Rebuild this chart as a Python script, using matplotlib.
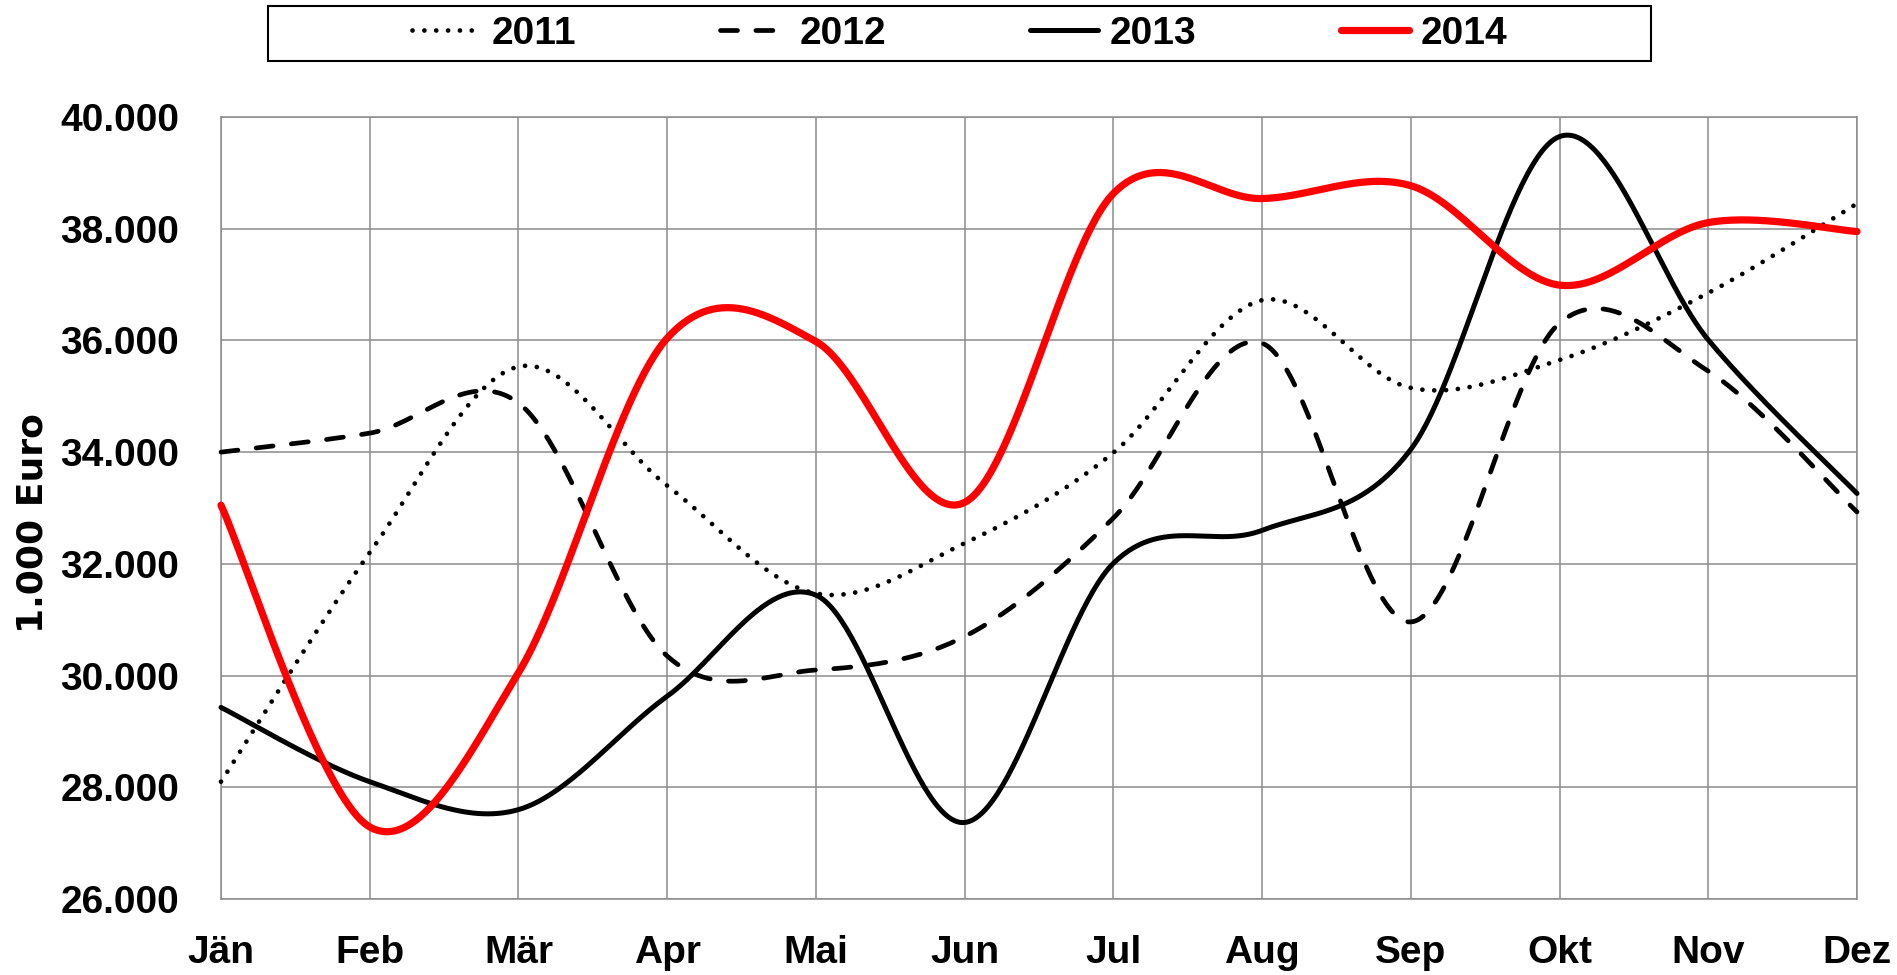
import numpy as np
import matplotlib
matplotlib.use("Agg")
import matplotlib.pyplot as plt
from matplotlib.patches import Rectangle
from matplotlib.ticker import FuncFormatter

months = ["Jän", "Feb", "Mär", "Apr", "Mai", "Jun", "Jul", "Aug", "Sep", "Okt", "Nov", "Dez"]
v2011 = [28100, 32200, 35530, 33400, 31470, 32370, 33990, 36720, 35150, 35650, 36850, 38450]
v2012 = [34000, 34340, 34880, 30350, 30100, 30700, 32820, 35950, 30960, 36310, 35450, 32930]
v2013 = [29430, 28100, 27600, 29630, 31440, 27370, 32010, 32600, 34050, 39650, 36010, 33260]
v2014 = [33050, 27290, 30050, 36040, 35980, 33100, 38630, 38540, 38770, 36990, 38110, 37950]
years = ["2011", "2012", "2013", "2014"]
yticks = [26000, 28000, 30000, 32000, 34000, 36000, 38000, 40000]


def smooth(x, y, n=60):
    x = np.asarray(x, float)
    y = np.asarray(y, float)
    xs, ys = [], []
    N = len(x)
    for i in range(N - 1):
        i0 = max(i - 1, 0)
        i3 = min(i + 2, N - 1)
        p0 = np.array([x[i], y[i]])
        p3 = np.array([x[i + 1], y[i + 1]])
        c1 = p0 + (np.array([x[i + 1], y[i + 1]]) - np.array([x[i0], y[i0]])) / 6.0
        c2 = p3 - (np.array([x[i3], y[i3]]) - np.array([x[i], y[i]])) / 6.0
        t = np.linspace(0, 1, n)[:, None]
        b = ((1 - t) ** 3) * p0 + 3 * ((1 - t) ** 2) * t * c1 + 3 * (1 - t) * t ** 2 * c2 + t ** 3 * p3
        if i > 0:
            b = b[1:]
        xs.append(b[:, 0])
        ys.append(b[:, 1])
    return np.concatenate(xs), np.concatenate(ys)


fig = plt.figure(figsize=(18.97, 9.75), dpi=100)
ax = fig.add_axes([221 / 1897, 1 - 899 / 975, (1857 - 221) / 1897, (899 - 117) / 975])

xi = np.arange(len(months))
grid_c = "#8c8c8c"

styles = [
    dict(color="black", lw=3.4, linestyle=(0, (0.01, 2.5)), dash_capstyle="round"),
    dict(color="black", lw=3.4, linestyle=(0, (3.6, 3.9)), dash_capstyle="round"),
    dict(color="black", lw=3.6, linestyle="-"),
    dict(color="#ff0000", lw=5.2, linestyle="-"),
]
series = [v2011, v2012, v2013, v2014]
handles = []
for vals, st, lab in zip(series, styles, years):
    sx, sy = smooth(xi, vals)
    ln, = ax.plot(sx, sy, clip_on=False, solid_capstyle="round", solid_joinstyle="round",
                  label=lab, zorder=3, **st)
    handles.append(ln)

ax.set_xlim(0, len(months) - 1)
ax.set_ylim(26000, 40000)
ax.set_xticks(xi)
ax.set_xticklabels(months)
ax.set_yticks(yticks)
ax.yaxis.set_major_formatter(FuncFormatter(lambda v, p: f"{int(v):,}".replace(",", ".")))
ax.grid(True, color=grid_c, lw=1.1, zorder=0)
for s in ax.spines.values():
    s.set_color(grid_c)
    s.set_linewidth(1.1)
ax.tick_params(axis="both", length=0, labelsize=28)
ax.tick_params(axis="y", pad=30)
ax.tick_params(axis="x", pad=26)
for lab in ax.get_xticklabels() + ax.get_yticklabels():
    lab.set_fontfamily("Liberation Sans")
    lab.set_fontweight("bold")

fig.text(33 / 1897, 1 - 523 / 975, "1.000 Euro", rotation=90, ha="center", va="center",
         fontsize=26, fontweight="bold", family="DejaVu Sans")

# legend frame
fig.patches.append(Rectangle((268 / 1897, 1 - 61 / 975), (1651 - 268) / 1897, 55 / 975,
                             transform=fig.transFigure, fill=False, ec="black", lw=1.5))
leg = fig.legend(handles=handles, labels=years, loc="center", ncol=4,
                 bbox_to_anchor=((268 + 1651) / 2 / 1897, 1 - 33.5 / 975),
                 frameon=False, handlelength=1.75, handletextpad=0.3, columnspacing=3.7,
                 prop=dict(family="Liberation Sans", weight="bold", size=28))

fig.savefig("out.png", dpi=100)
